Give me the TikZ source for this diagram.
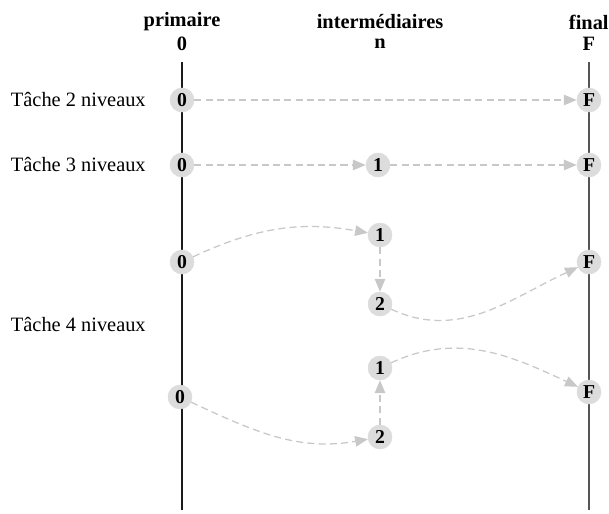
\documentclass[tikz,border=0pt]{standalone}
\usepackage{fontspec}
\setmainfont{Liberation Serif}
\usetikzlibrary{arrows.meta}
\definecolor{axisInk}{HTML}{1A1A1A}
\definecolor{axisGray}{HTML}{555555}
\definecolor{levelFill}{HTML}{DCDCDC}
\definecolor{levelEdge}{HTML}{C8C8C8}
\tikzset{
  level node/.style={
    circle,
    fill=levelFill,
    draw=levelFill,
    minimum size=0.6cm,
    inner sep=0pt,
    font=\fontsize{14}{16}\selectfont\bfseries
  },
  column title/.style={
    font=\fontsize{14.5}{17}\selectfont\bfseries,
    align=center
  },
  task label/.style={
    font=\fontsize{14.5}{17}\selectfont,
    anchor=west
  },
  level edge/.style={
    -{Triangle[length=3.2mm,width=2.6mm]},
    dash pattern=on 5pt off 3pt,
    draw=levelEdge,
    line width=0.9pt
  },
  time axis/.style={
    line width=0.9pt
  }
}
\begin{document}
\begin{tikzpicture}
  \useasboundingbox (0,0) rectangle (15.225,-12.825);

  % column titles
  \node[column title] (tPrim) at (4.55,-0.55) {primaire};
  \node[column title] (tPrimN) at (4.55,-1.1) {0};
  \node[column title] (tInter) at (9.5,-0.55) {intermédiaires};
  \node[column title] (tInterN) at (9.5,-1.1) {n};
  \node[column title] (tFinal) at (14.72,-0.55) {final};
  \node[column title] (tFinalN) at (14.72,-1.1) {F};

  % time axes
  \coordinate (lTop) at (4.55,-1.55);
  \coordinate (lBot) at (4.55,-12.75);
  \coordinate (rTop) at (14.725,-1.55);
  \coordinate (rBot) at (14.725,-12.75);
  \draw[time axis,draw=axisInk] (lTop) -- (lBot);
  \draw[time axis,draw=axisGray] (rTop) -- (rBot);

  % task labels
  \node[task label] (lab2) at (0.15,-2.5) {Tâche 2 niveaux};
  \node[task label] (lab3) at (0.15,-4.125) {Tâche 3 niveaux};
  \node[task label] (lab4) at (0.15,-8.125) {Tâche 4 niveaux};

  % two levels
  \node[level node] (a0) at (4.55,-2.5) {0};
  \node[level node] (aF) at (14.725,-2.5) {F};
  \draw[level edge] (a0) -- (aF);

  % three levels
  \node[level node] (b0) at (4.55,-4.125) {0};
  \node[level node] (b1) at (9.45,-4.125) {1};
  \node[level node] (bF) at (14.725,-4.125) {F};
  \draw[level edge] (b0) -- (b1);
  \draw[level edge] (b1) -- (bF);

  % four levels, first case
  \node[level node] (c0) at (4.55,-6.55) {0};
  \node[level node] (c1) at (9.5,-5.875) {1};
  \node[level node] (c2) at (9.5,-7.6) {2};
  \node[level node] (cF) at (14.725,-6.55) {F};
  \draw[level edge] (c0) to[out=25,in=170] (c1);
  \draw[level edge] (c1) -- (c2);
  \draw[level edge] (c2) to[out=-25,in=205] (cF);

  % four levels, second case
  \node[level node] (d0) at (4.5,-9.925) {0};
  \node[level node] (d1) at (9.5,-9.2) {1};
  \node[level node] (d2) at (9.5,-10.925) {2};
  \node[level node] (dF) at (14.725,-9.8) {F};
  \draw[level edge] (d0) to[out=-25,in=190] (d2);
  \draw[level edge] (d2) -- (d1);
  \draw[level edge] (d1) to[out=25,in=155] (dF);
\end{tikzpicture}
\end{document}
